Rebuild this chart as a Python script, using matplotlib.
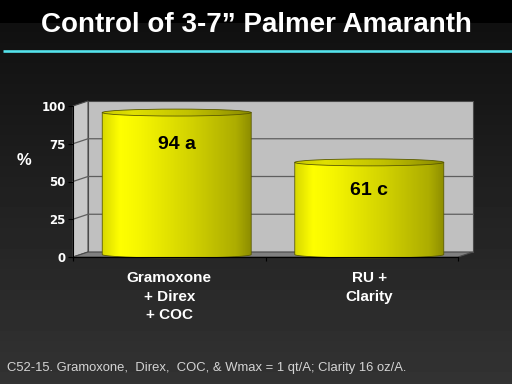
import matplotlib
matplotlib.use('Agg')
import matplotlib.pyplot as plt
import numpy as np
from matplotlib.patches import Polygon, Rectangle, Ellipse
from matplotlib.colors import LinearSegmentedColormap

# data
categories = ['Gramoxone\n+ Direx\n+ COC', 'RU +\nClarity']
control = [94, 61]
letters = ['a', 'c']
yticks = [0, 25, 50, 75, 100]

title = 'Control of 3-7\u201d Palmer Amaranth'
note = 'C52-15. Gramoxone,  Direx,  COC, & Wmax = 1 qt/A; Clarity 16 oz/A.'

W, H = 512, 384
fig = plt.figure(figsize=(W / 100, H / 100), dpi=100)


def fx(px):
    return px / W


def fy(py):
    return 1 - py / H


# dark slide background + cyan rule
bg = fig.add_axes([0, 0, 1, 1], zorder=-5)
rows = np.arange(H)
shade = np.where(rows < 23, 0.0, 0.063 + (rows - 23) / (H - 23) * 0.137)
bg.imshow(shade[:, None], cmap='gray', vmin=0, vmax=1, extent=[0, W, H, 0], aspect='auto')
bg.plot([3, W], [51, 51], color='#55e3ec', lw=1.9, solid_capstyle='butt')
bg.set_xlim(0, W)
bg.set_ylim(H, 0)
bg.axis('off')

fig.text(0.5, fy(32), title, ha='center', va='baseline', color='white',
         fontsize=20, fontweight='bold', family='Liberation Sans')

# chart (front plane)
ax = fig.add_axes([fx(73), fy(257), 385 / W, 151 / H])
ax.patch.set_visible(False)
nx = len(categories)
ddx = 15 / 385 * nx   # depth of the 3d box, data units
ddy = 5 / 151 * 100

wall = '#c0c0c0'
edge = '#4a4a4a'
ax.add_patch(Rectangle((ddx, ddy), nx, 100, fc=wall, ec=edge, lw=0.8, clip_on=False, zorder=0.5))
ax.add_patch(Polygon([(0, 0), (ddx, ddy), (ddx, 100 + ddy), (0, 100)], closed=True,
                     fc='#c8c8c8', ec=edge, lw=0.8, clip_on=False, zorder=0.6))
ax.add_patch(Polygon([(0, 0), (nx, 0), (nx + ddx, ddy), (ddx, ddy)], closed=True,
                     fc='#808080', ec=edge, lw=0.8, clip_on=False, zorder=0.6))
for v in yticks[1:-1]:
    ax.plot([0, ddx, nx + ddx], [v, v + ddy, v + ddy], color='#5e5e5e', lw=0.9,
            clip_on=False, zorder=0.8)

cyl = LinearSegmentedColormap.from_list('cyl', [
    (0.0, '#d8d800'), (0.12, '#ffff00'), (0.25, '#f6f600'),
    (0.6, '#d2d200'), (0.9, '#adad00'), (1.0, '#8e8e00')])
cyl_top = LinearSegmentedColormap.from_list('cyltop', [
    (0.0, '#c8c800'), (0.2, '#e0e000'), (0.6, '#c0c000'), (1.0, '#8a8a00')])
grad = np.linspace(0, 1, 256)[None, :]

hw = 0.387
e = 2.3
t = np.linspace(np.pi, 2 * np.pi, 80)
for i, v in enumerate(control):
    cx = i + 0.5 + ddx / 2
    base = ddy / 2
    top = v + ddy / 2
    bx = cx + hw * np.cos(t)
    by = base + e * np.sin(t)
    body = Polygon(np.column_stack([np.r_[bx, cx + hw, cx - hw], np.r_[by, top, top]]),
                   closed=True, fc='none', ec='none', transform=ax.transData)
    ax.add_patch(body)
    im = ax.imshow(grad, cmap=cyl, extent=[cx - hw, cx + hw, base - e, top],
                   aspect='auto', zorder=2, interpolation='bilinear')
    im.set_clip_path(body)
    ax.plot(np.r_[cx - hw, bx, cx + hw], np.r_[top, by, top], color='#5a5a00', lw=0.6,
            zorder=2.2, clip_on=False)
    lid = Ellipse((cx, top), 2 * hw, 2 * e, fc='none', ec='none', transform=ax.transData)
    ax.add_patch(lid)
    im2 = ax.imshow(grad, cmap=cyl_top, extent=[cx - hw, cx + hw, top - e, top + e],
                    aspect='auto', zorder=2.4, interpolation='bilinear')
    im2.set_clip_path(lid)
    ax.add_patch(Ellipse((cx, top), 2 * hw, 2 * e, fc='none', ec='#5a5a00', lw=0.6,
                         zorder=2.5, clip_on=False))
    ax.annotate(f'{v} {letters[i]}', xy=(cx, top), xytext=(0, -30 - 0.1 * (v - 77)),
                textcoords='offset pixels',
                ha='center', va='center', fontsize=14, fontweight='bold',
                family='Liberation Sans', color='black', zorder=5)

ax.set_xlim(0, nx)
ax.set_ylim(0, 100)
for s in ['top', 'right']:
    ax.spines[s].set_visible(False)
for s in ['left', 'bottom']:
    ax.spines[s].set_color('black')
    ax.spines[s].set_linewidth(0.8)
    ax.spines[s].set_zorder(3)

ax.set_yticks(yticks)
ax.set_yticklabels([str(v) for v in yticks], color='white', fontsize=8.5,
                   fontweight='bold', family='DejaVu Sans')
ax.tick_params(axis='y', length=3.6, width=0.8, color='black', pad=1.5)
ax.set_xticks(range(nx + 1))
ax.set_xticklabels([])
ax.tick_params(axis='x', which='major', length=3, width=0.8, color='black')
ax.set_xticks([i + 0.5 + ddx * 0.5 * i for i in range(nx)], minor=True)
ax.set_xticklabels(categories, minor=True, color='white', fontsize=11,
                   fontweight='bold', family='Liberation Sans', linespacing=1.42)
ax.tick_params(axis='x', which='minor', length=0, pad=10)

fig.text(fx(24), fy(160), '%', ha='center', va='center', color='white',
         fontsize=12, fontweight='bold', family='Liberation Sans')

fig.text(fx(7), fy(371), note, ha='left', va='baseline', color='#d4d4d4',
         fontsize=9.4, family='Liberation Sans')

fig.savefig('out.png', dpi=100, facecolor='black')
